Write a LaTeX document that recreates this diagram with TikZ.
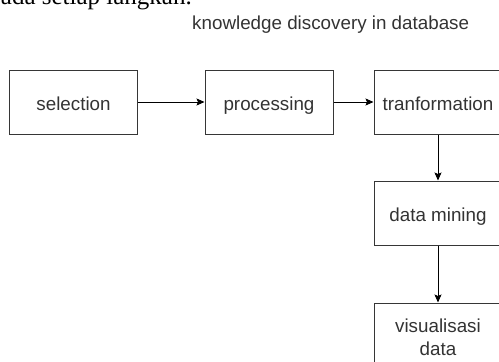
\documentclass[tikz,border=0pt]{standalone}
\usepackage{fontspec}
\setmainfont{Liberation Sans}
\newfontfamily\bodyserif{Liberation Serif}
\usetikzlibrary{arrows.meta}
\definecolor{boxline}{RGB}{54, 54, 54}
\definecolor{boxtext}{RGB}{51, 51, 51}

\tikzset{
  stepbox/.style={draw=boxline, line width=1pt, minimum width=128pt, minimum height=64pt,
    inner sep=0pt, align=center, text=boxtext, font=\fontsize{18.8}{22.6}\selectfont},
  oneline/.style={text height=16pt, text depth=0pt},
  flow/.style={->, >={Stealth[length=8pt, width=7pt, inset=1.5pt]}, line width=0.9pt, black}
}

\begin{document}
\begin{tikzpicture}[x=1pt, y=-1pt]
  \useasboundingbox (0, 0) rectangle (499, 362);

  % cut-off line of the page above
  \node (pagetext) [anchor=base east, inner sep=0pt, font=\bodyserif\fontsize{25}{30}\selectfont]
    at (192, 4.5) {ada setiap langkah.};

  \node (title) [anchor=base west, inner sep=0pt, text=boxtext, font=\fontsize{18.8}{22}\selectfont]
    at (192, 29) {knowledge discovery in database};

  \node (selection) [stepbox, oneline] at (73.5, 102) {selection};
  \node (processing) [stepbox, oneline] at (269, 102) {processing};
  \node (tranform) [stepbox, oneline] at (438, 102) {tranformation};
  \node (mining) [stepbox, oneline] at (438, 213) {data mining};
  \node (visual) [stepbox, minimum height=68pt] at (438, 337) {visualisasi\\data};

  \draw [flow] (selection) -- (processing);
  \draw [flow] (processing) -- (tranform);
  \draw [flow] (tranform) -- (mining);
  \draw [flow] (mining) -- (visual);

\end{tikzpicture}
\end{document}
